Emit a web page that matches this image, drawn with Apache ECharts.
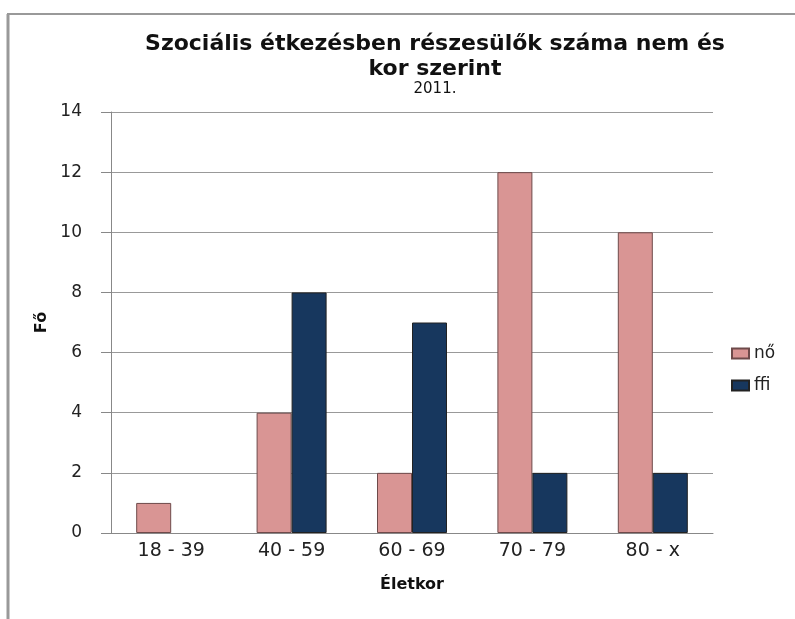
<!DOCTYPE html>
<html>
<head>
<meta charset="utf-8">
<script src="https://cdn.jsdelivr.net/npm/echarts@6/dist/echarts.min.js"></script>
<style>
  html, body { margin: 0; padding: 0; background: #fff; }
  #chart { width: 795px; height: 619px; }
</style>
</head>
<body>
<div id="chart"></div>
<script>
const categories = ['18 - 39', '40 - 59', '60 - 69', '70 - 79', '80 - x']
const noValues = [1, 4, 2, 12, 10]
const ffiValues = [0, 8, 7, 2, 2]

const chart = echarts.init(document.getElementById('chart'))
const font = 'DejaVu Sans'
// zero values get no bar at all (no border sliver)
const noBar = v => (v === 0 ? '-' : v)
const option = {
  animation: false,
  backgroundColor: '#fff',
  title: {
    text: 'Szociális étkezésben részesülők száma nem és\nkor szerint',
    subtext: '2011.',
    left: 430,
    textAlign: 'center',
    top: 27,
    itemGap: 0,
    textStyle: { fontFamily: font, fontSize: 22, fontWeight: 'bold', color: '#111', lineHeight: 25 },
    subtextStyle: { fontFamily: font, fontSize: 15, color: '#111' }
  },
  legend: {
    orient: 'vertical',
    left: 726,
    top: 340,
    itemWidth: 17,
    itemHeight: 10,
    itemGap: 15,
    icon: 'rect',
    textStyle: { fontFamily: font, fontSize: 17, color: '#222' },
    data: ['nő', 'ffi']
  },
  grid: { left: 111, right: 82, top: 112, bottom: 86 },
  xAxis: {
    type: 'category',
    data: categories,
    name: 'Életkor',
    nameLocation: 'middle',
    nameGap: 44,
    nameTextStyle: { fontFamily: font, fontSize: 16, fontWeight: 'bold', color: '#111' },
    axisLine: { lineStyle: { color: '#888' } },
    axisTick: { show: false },
    axisLabel: { fontFamily: font, fontSize: 19, color: '#222', margin: 9 }
  },
  yAxis: {
    type: 'value',
    min: 0,
    max: 14,
    interval: 2,
    name: 'Fő',
    nameLocation: 'middle',
    nameGap: 58,
    nameRotate: 90,
    nameTextStyle: { fontFamily: font, fontSize: 16, fontWeight: 'bold', color: '#111' },
    axisLine: { show: true, lineStyle: { color: '#888' } },
    axisTick: { show: true, length: 10, lineStyle: { color: '#888' } },
    axisLabel: { fontFamily: font, fontSize: 17, color: '#222', margin: 29 },
    splitLine: { lineStyle: { color: '#999' } }
  },
  series: [
    {
      name: 'nő',
      type: 'bar',
      data: noValues.map(noBar),
      barWidth: 35,
      barGap: '0%',
      itemStyle: { color: '#d99594', borderColor: '#6e4a4a', borderWidth: 1 }
    },
    {
      name: 'ffi',
      type: 'bar',
      data: ffiValues.map(noBar),
      barWidth: 35,
      itemStyle: { color: '#17375e', borderColor: '#222', borderWidth: 1 }
    }
  ],
  graphic: [
    { type: 'line', shape: { x1: 8, y1: 14, x2: 8, y2: 619 }, style: { stroke: '#999', lineWidth: 3 } },
    { type: 'line', shape: { x1: 7, y1: 14, x2: 795, y2: 14 }, style: { stroke: '#999', lineWidth: 2 } }
  ]
}
chart.setOption(option)
</script>
</body>
</html>
